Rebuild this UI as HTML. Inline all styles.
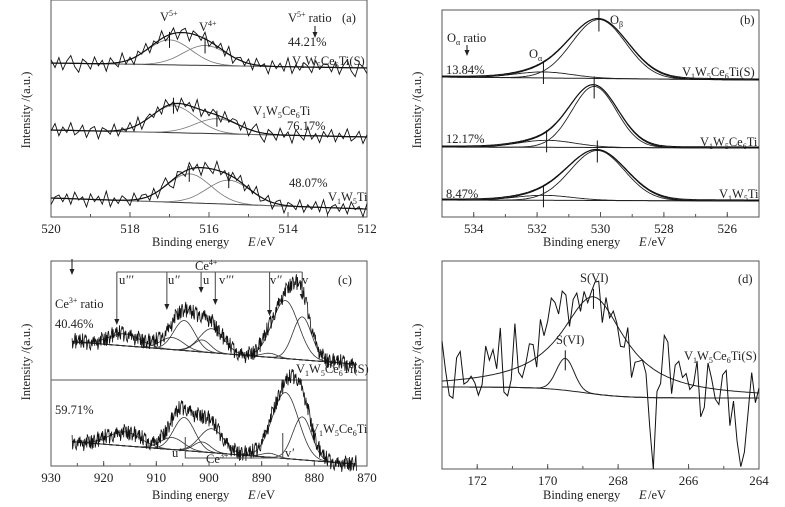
<!DOCTYPE html>
<html><head><meta charset="utf-8">
<style>
html,body{margin:0;padding:0;background:#fff;}
svg{display:block;font-family:"Liberation Serif",serif;}
text{fill:#222;}
.sm{font-size:8px;}
</style></head>
<body>
<svg id="fig" width="785" height="507" viewBox="0 0 785 507" xmlns="http://www.w3.org/2000/svg">
<g id="layer"></g>
<g font-size="12.5">
<text x="160" y="21">V<tspan class="sm" dy="-5">5+</tspan></text>
<text x="199" y="31">V<tspan class="sm" dy="-5">4+</tspan></text>
<text x="288" y="22">V<tspan class="sm" dy="-5">5+</tspan><tspan dy="5"> ratio</tspan></text>
<text x="288" y="46">44.21%</text>
<text x="292" y="65">V<tspan class="sm" dy="3">1</tspan><tspan dy="-3">W</tspan><tspan class="sm" dy="3">5</tspan><tspan dy="-3">Ce</tspan><tspan class="sm" dy="3">6</tspan><tspan dy="-3">Ti(S)</tspan></text>
<text x="342" y="22">(a)</text>
<text x="253" y="115">V<tspan class="sm" dy="3">1</tspan><tspan dy="-3">W</tspan><tspan class="sm" dy="3">5</tspan><tspan dy="-3">Ce</tspan><tspan class="sm" dy="3">6</tspan><tspan dy="-3">Ti</tspan></text>
<text x="287" y="130">76.17%</text>
<text x="289" y="187">48.07%</text>
<text x="328" y="201">V<tspan class="sm" dy="3">1</tspan><tspan dy="-3">W</tspan><tspan class="sm" dy="3">5</tspan><tspan dy="-3">Ti</tspan></text>
<text x="152" y="246" font-size="12.5">Binding energy</text><text x="248" y="246" font-size="12.5" font-style="italic">E</text><text x="257" y="246" font-size="12.5"> /eV</text>
<text transform="translate(30,110) rotate(-90)" text-anchor="middle" font-size="12.5">Intensity /(a.u.)</text>
</g>
<g font-size="12.5">
<text x="447" y="42">O<tspan class="sm" dy="3">α</tspan><tspan dy="-3"> ratio</tspan></text>
<text x="446" y="74">13.84%</text>
<text x="529" y="58">O<tspan class="sm" dy="3">α</tspan></text>
<text x="610" y="24">O<tspan class="sm" dy="3">β</tspan></text>
<text x="740" y="24">(b)</text>
<text x="682" y="76">V<tspan class="sm" dy="3">1</tspan><tspan dy="-3">W</tspan><tspan class="sm" dy="3">5</tspan><tspan dy="-3">Ce</tspan><tspan class="sm" dy="3">6</tspan><tspan dy="-3">Ti(S)</tspan></text>
<text x="446" y="143">12.17%</text>
<text x="700" y="146">V<tspan class="sm" dy="3">1</tspan><tspan dy="-3">W</tspan><tspan class="sm" dy="3">5</tspan><tspan dy="-3">Ce</tspan><tspan class="sm" dy="3">6</tspan><tspan dy="-3">Ti</tspan></text>
<text x="446" y="198">8.47%</text>
<text x="719" y="198">V<tspan class="sm" dy="3">1</tspan><tspan dy="-3">W</tspan><tspan class="sm" dy="3">5</tspan><tspan dy="-3">Ti</tspan></text>
<text x="543" y="246" font-size="12.5">Binding energy</text><text x="639" y="246" font-size="12.5" font-style="italic">E</text><text x="648" y="246" font-size="12.5"> /eV</text>
<text transform="translate(421,110) rotate(-90)" text-anchor="middle" font-size="12.5">Intensity /(a.u.)</text>
</g>
<g font-size="12.5">
<text x="338" y="284">(c)</text>
<text x="195" y="270">Ce<tspan class="sm" dy="-5">4+</tspan></text>
<text x="119" y="284">u<tspan font-style="italic">'''</tspan></text>
<text x="168" y="284">u<tspan font-style="italic">''</tspan></text>
<text x="203" y="284">u</text>
<text x="219" y="284">v<tspan font-style="italic">'''</tspan></text>
<text x="270" y="284">v<tspan font-style="italic">''</tspan></text>
<text x="302" y="284">v</text>
<text x="55" y="308">Ce<tspan class="sm" dy="-5">3+</tspan><tspan dy="5"> ratio</tspan></text>
<text x="55" y="328">40.46%</text>
<text x="296" y="373">V<tspan class="sm" dy="3">1</tspan><tspan dy="-3">W</tspan><tspan class="sm" dy="3">5</tspan><tspan dy="-3">Ce</tspan><tspan class="sm" dy="3">6</tspan><tspan dy="-3">Ti(S)</tspan></text>
<text x="55" y="414">59.71%</text>
<text x="310" y="433">V<tspan class="sm" dy="3">1</tspan><tspan dy="-3">W</tspan><tspan class="sm" dy="3">5</tspan><tspan dy="-3">Ce</tspan><tspan class="sm" dy="3">6</tspan><tspan dy="-3">Ti</tspan></text>
<text x="172" y="457">u<tspan font-style="italic">'</tspan></text>
<text x="206" y="463">Ce<tspan class="sm" dy="-5">3+</tspan></text>
<text x="285" y="457">v<tspan font-style="italic">'</tspan></text>
<text x="152" y="499" font-size="12.5">Binding energy</text><text x="248" y="499" font-size="12.5" font-style="italic">E</text><text x="257" y="499" font-size="12.5"> /eV</text>
<text transform="translate(30,362) rotate(-90)" text-anchor="middle" font-size="12.5">Intensity /(a.u.)</text>
</g>
<g font-size="12.5">
<text x="738" y="283">(d)</text>
<text x="580" y="282">S(VI)</text>
<text x="556" y="344">S(VI)</text>
<text x="684" y="360">V<tspan class="sm" dy="3">1</tspan><tspan dy="-3">W</tspan><tspan class="sm" dy="3">5</tspan><tspan dy="-3">Ce</tspan><tspan class="sm" dy="3">6</tspan><tspan dy="-3">Ti(S)</tspan></text>
<text x="543" y="499" font-size="12.5">Binding energy</text><text x="639" y="499" font-size="12.5" font-style="italic">E</text><text x="648" y="499" font-size="12.5"> /eV</text>
<text transform="translate(421,362) rotate(-90)" text-anchor="middle" font-size="12.5">Intensity /(a.u.)</text>
</g>
</svg>
<script>
// ---- data ----
const aTicks=[520,518,516,514,512];
const aCenters=[[517.0,516.1],[516.9,515.8],[516.5,515.5]];
const aHeights=[[25,20],[27,15],[29,24]];
const aBase=[[154,149],[87,80],[19,8]];
const aSigma=0.55;
const noiseA=[3,-4,5,-6,2,7,-3,-8,4,1,-5,6,-2,3,-7,5,0,-4,8,-3,2,-6,4,-1,6,-5,3,-2,7,-4,-1,5,-6,2,4,-7,3,1,-3,6,-5,2,-2,5,-4,7,-6,1,3,-3,4,-5,6,-1,2,-7,5,-2,3,-4,8,-6,2,-3,4,1,-5,6,-2,3];

const bTicks=[534,532,530,528,526];
const bCenters=[[531.8,530.05],[531.7,530.2],[531.8,530.1]];
const bHeights=[[6,59],[7,61],[5,50]];
const bSigmas=[[0.9,0.85],[0.9,0.7],[0.9,0.85]];
const bBase=[[140,137],[70,69],[17,16]];

const cTicks=[930,920,910,900,890,880,870];
const cCenters=[916,907,904.7,901.3,899.5,888.5,885.5,882.3];
const cHeights1=[12,12,30,12,24,4,58,43];
const cHeights2=[14,12,33,10,24,4,66,43];
const cSigmas=[3,2.2,2.0,1.6,2.3,1.5,2.5,1.8];
const cBase=[[126,101],[26,1]];
const cMarkers=[917.5,908,901.5,898.8,888.5,882.3];

const dTickVals=[172,170,168,166,164];
const dTickLabels=["172","170","268","266","264"];
const dCenters=[169.5,168.7];
const dHeights=[32,97];
const dWidths=[0.25,1.1];
const dBase=[82,71];
const noiseD=[40,10,-15,-18,22,28,-5,-3,2,-5,-18,-8,30,15,25,5,45,-20,-25,-10,45,-5,-12,0,18,15,-10,35,15,25,42,30,10,25,15,-20,5,10,-10,8,-5,5,15,18,-20,10,-5,8,2,-15,-10,15,-30,-10,-5,0,-10,-60,-100,-20,-10,40,35,-15,15,20,5,10,-5,0,25,-30,-20,25,10,-10,-15,15,20,-35,-10,-50,-75,-60,-20,20,-10,5];

// ---- helpers ----
const NS="http://www.w3.org/2000/svg";
const layer=document.getElementById('layer');
function mk(tag,attrs,parent){const e=document.createElementNS(NS,tag);for(const k in attrs)e.setAttribute(k,attrs[k]);(parent||layer).appendChild(e);return e;}
const PA={x0:51,x1:367,d0:520,d1:512,top:0,bottom:217};
const PB={x0:442,x1:759,d0:535,d1:525,top:10,bottom:217};
const PC={x0:51,x1:367,d0:930,d1:870,top:261,bottom:466};
const PD={x0:442,x1:759,d0:173,d1:164,top:261,bottom:469};
function X(p,e){return p.x0+(e-p.d0)/(p.d1-p.d0)*(p.x1-p.x0);}
function Y(p,v){return p.bottom-v;}
function gauss(e,c,h,s){return h*Math.exp(-0.5*((e-c)/s)**2);}
function lor(e,c,h,w){return h/(1+((e-c)/w)**2);}
function baseAt(p,e,bl,br){const t=(e-p.d0)/(p.d1-p.d0);return bl+(br-bl)*t;}
function pathOf(p,pts){return pts.map((q,i)=>(i?'L':'M')+X(p,q[0]).toFixed(1)+','+Y(p,q[1]).toFixed(1)).join('');}
function frame(p,name,ticks,labels,minor){
  const g=mk('g',{});
  
  
  mk('rect',{x:p.x0,y:p.top,width:p.x1-p.x0,height:p.bottom-p.top,fill:'none',stroke:'#555','stroke-width':1},g);
  minor.forEach(v=>{mk('line',{x1:X(p,v),x2:X(p,v),y1:p.bottom,y2:p.bottom-3,stroke:'#555'},g);});
  ticks.forEach((v,i)=>{
    mk('line',{x1:X(p,v),x2:X(p,v),y1:p.bottom,y2:p.bottom-5,stroke:'#555'},g);
    const t=mk('text',{x:X(p,v),y:p.bottom+16,'text-anchor':'middle','font-size':13},g);
    
    
    t.textContent=labels[i];
  });
}
function line(d,w,col,name){const e=mk('path',{d:d,fill:'none',stroke:col||'#111','stroke-width':w||1});return e;}
function arrowHead(x,y,name){const e=mk('path',{d:'M'+(x-2.5)+','+(y-6)+'L'+x+','+y+'L'+(x+2.5)+','+(y-6)+'z',fill:'#222'});}
function range(a,b,st){const r=[];const n=Math.round(Math.abs(b-a)/st);for(let i=0;i<=n;i++)r.push(a+(b-a)*i/n);return r;}

// ---- panel a ----
frame(PA,'panel-a-frame',aTicks,aTicks.map(String),range(520,512,1));
aCenters.forEach((cs,k)=>{
  const es=range(520,512,0.1);
  const bl=aBase[k][0],br=aBase[k][1];
  const b=e=>baseAt(PA,e,bl,br);
  line(pathOf(PA,es.map(e=>[e,b(e)])),1,'#333','a-baseline');
  cs.forEach((c,j)=>{line(pathOf(PA,es.map(e=>[e,b(e)+gauss(e,c,aHeights[k][j],aSigma)])),0.8,'#777','a-component');
    const v=b(c)+gauss(c,c,aHeights[k][j],aSigma);
    line('M'+X(PA,c)+','+(Y(PA,v)-8)+'V'+(Y(PA,v)+8),1,'#111','a-peak-marker');});
  const env=e=>b(e)+cs.reduce((s,c,j)=>s+gauss(e,c,aHeights[k][j],aSigma),0);
  line(pathOf(PA,es.map(e=>[e,env(e)])),1.2,'#111','a-envelope');
  line(pathOf(PA,es.map((e,i)=>[e,env(e)+noiseA[(i+k*23)%noiseA.length]*1.1])),0.9,'#111','a-raw');
});
line('M315,26V36',1,'#111','a-arrow');arrowHead(315,38,'a-arrow-head');

// ---- panel b ----
frame(PB,'panel-b-frame',bTicks,bTicks.map(String),range(535,525,1));
bCenters.forEach((cs,k)=>{
  const es=range(535,525,0.05);
  const b=e=>baseAt(PB,e,bBase[k][0],bBase[k][1]);
  line(pathOf(PB,es.map(e=>[e,b(e)])),1,'#222','b-baseline');
  cs.forEach((c,j)=>{line(pathOf(PB,es.map(e=>[e,b(e)+gauss(e,c,bHeights[k][j],bSigmas[k][j])])),0.9,'#222','b-component');
    const v=b(c)+gauss(c,c,bHeights[k][j],bSigmas[k][j]);
    line('M'+X(PB,c)+','+(Y(PB,v)-10)+'V'+(Y(PB,v)+12),1,'#111','b-peak-marker');});
  const env=e=>b(e)+cs.reduce((s,c,j)=>s+gauss(e,c,bHeights[k][j],bSigmas[k][j]*(j?1.08:1)),0);
  line(pathOf(PB,es.map(e=>[e,env(e)])),1,'#111','b-envelope');
  line(pathOf(PB,es.map(e=>[e,env(e)*0.985+b(e)*0.015+1])),1,'#111','b-raw');
});
line('M467,45V53',1,'#111','b-arrow');arrowHead(467,56,'b-arrow-head');

// ---- panel c ----
frame(PC,'panel-c-frame',cTicks,cTicks.map(String),range(930,870,5));
line('M51,380H367',1.2,'#777','c-divider');
[cHeights1,cHeights2].forEach((hs,k)=>{
  const es=range(926,872,0.1);
  const b=e=>baseAt(PC,e,cBase[k][0],cBase[k][1]);
  line(pathOf(PC,es.map(e=>[e,b(e)])),1,'#222','c-baseline');
  cCenters.forEach((c,j)=>{line(pathOf(PC,es.map(e=>[e,b(e)+gauss(e,c,hs[j],cSigmas[j])])),0.8,'#333','c-component');});
  const env=e=>b(e)+cCenters.reduce((s,c,j)=>s+gauss(e,c,hs[j],cSigmas[j]),0);
  line(pathOf(PC,es.map((e,i)=>[e,env(e)+noiseA[(i*3+k*11)%noiseA.length]*1.1])),0.8,'#111','c-raw');
});
const cDrop=[325,310,293,305,316,300];
cMarkers.forEach((m,i)=>{const x=X(PC,m);line('M'+x+',272V'+(cDrop[i]-4),1.1,'#555','c-ce4-bracket');arrowHead(x,cDrop[i],'c-ce4-arrow');});
line('M'+X(PC,917.5)+',272H'+X(PC,882.3),1.1,'#555','c-ce4-bracket-top');
line('M'+X(PC,904.5)+',437V458H'+X(PC,886)+'V433',1.1,'#555','c-ce3-bracket');
line('M72,259V272',1,'#111','c-arrow');arrowHead(72,275,'c-arrow-head');

// ---- panel d ----
frame(PD,'panel-d-frame',dTickVals,dTickLabels,range(173,164,1));
(function(){
  const es=range(173,164,0.05);
  const b=e=>dBase[1]+(dBase[0]-dBase[1])/(1+Math.exp(-(e-169)/0.6));
  line(pathOf(PD,es.map(e=>[e,b(e)])),1,'#222','d-baseline');
  line(pathOf(PD,es.map(e=>[e,b(e)+gauss(e,dCenters[0],dHeights[0],dWidths[0])])),1,'#222','d-component-small');
  line(pathOf(PD,es.map(e=>[e,b(e)+lor(e,dCenters[1],dHeights[1],dWidths[1])])),1,'#222','d-component-main');
  dCenters.forEach((c,j)=>{const v=b(c)+(j?lor(c,c,dHeights[j],dWidths[j]):dHeights[j]);line('M'+X(PD,c)+','+(Y(PD,v)-8)+'V'+(Y(PD,v)+12),1,'#111','d-peak-marker');});
  const n=noiseD.length;
  const pts=noiseD.map((r,i)=>{const e=173-i*9/(n-1);return [e,b(e)+gauss(e,dCenters[0],dHeights[0],dWidths[0])*0.5+lor(e,dCenters[1],dHeights[1],dWidths[1])+r];});
  line(pathOf(PD,pts),1,'#111','d-raw');
})();
</script>
</body></html>
